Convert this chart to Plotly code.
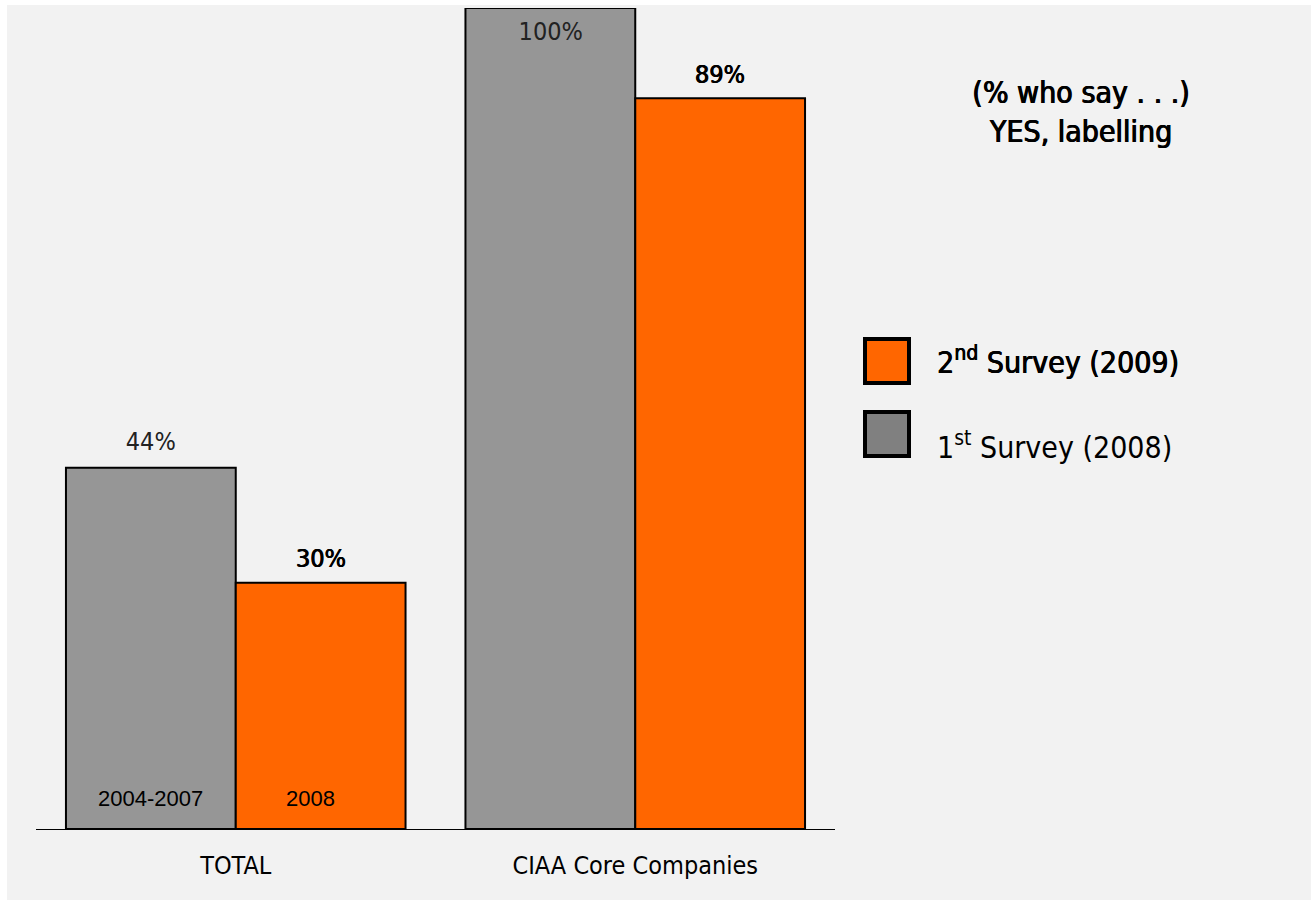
import plotly.graph_objects as go

# Survey results: share of respondents answering "YES, labelling"
categories = ["TOTAL", "CIAA Core Companies"]
first_survey = [44, 100]     # 1st Survey (2008)
second_survey = [30, 89]     # 2nd Survey (2009)
period_labels_first = ["2004-2007", ""]
period_labels_second = ["2008", ""]

GREY = "#969696"
ORANGE = "#ff6600"
NARROW = "DejaVu Sans"
REGULAR = "Liberation Sans, Arial, sans-serif"
THICK = "0.6px 0 0 black, -0.2px 0 0 black"  # slightly heavier stroke

W, H = 1311, 900
M_L, M_R, M_T, M_B = 36, 476, 8, 71
PW = W - M_L - M_R
PH = H - M_T - M_B


def px_x(px):
    return (px - M_L) / PW


def px_y(py):
    return (H - M_B - py) / PH


def narrow(size, color="black", weight="normal", shadow="none"):
    return dict(family=NARROW, size=size, color=color, weight=weight,
                shadow=shadow)


fig = go.Figure()
fig.add_trace(go.Bar(
    x=categories, y=first_survey, name="1st Survey (2008)",
    marker=dict(color=GREY, line=dict(color="black", width=2)),
))
fig.add_trace(go.Bar(
    x=categories, y=second_survey, name="2nd Survey (2009)",
    marker=dict(color=ORANGE, line=dict(color="black", width=2)),
))

annotations = []
half = PW / 2 * 0.85 / 4  # offset from category centre to bar centre
for i, cat in enumerate(categories):
    v1, v2 = first_survey[i], second_survey[i]
    # value labels
    annotations.append(dict(
        x=cat, y=v1, xref="x", yref="y", xshift=-half,
        yshift=(-23 if v1 >= 100 else 26), showarrow=False,
        xanchor="center", yanchor="middle",
        text=f"{v1}%", font=narrow(25, "#222"),
    ))
    annotations.append(dict(
        x=cat, y=v2, xref="x", yref="y", xshift=half,
        yshift=24, showarrow=False, xanchor="center", yanchor="middle",
        text=f"{v2}%", font=narrow(25, "black", shadow=THICK),
    ))
    # period labels at the base of the bars
    if period_labels_first[i]:
        annotations.append(dict(
            x=cat, y=0, xref="x", yref="y", xshift=-half, yshift=31,
            showarrow=False, xanchor="center", yanchor="middle",
            text=period_labels_first[i],
            font=dict(family=REGULAR, size=22, color="black"),
        ))
    if period_labels_second[i]:
        annotations.append(dict(
            x=cat, y=0, xref="x", yref="y", xshift=half - 10, yshift=31,
            showarrow=False, xanchor="center", yanchor="middle",
            text=period_labels_second[i],
            font=dict(family=REGULAR, size=22, color="black"),
        ))

# heading
annotations.append(dict(
    x=px_x(1081), y=px_y(112), xref="paper", yref="paper", showarrow=False,
    xanchor="center", yanchor="middle",
    text="(% who say . . .)<br>YES, labelling",
    font=narrow(30, "black", shadow="0.7px 0 0 black, -0.3px 0 0 black"),
    align="center",
))

# legend entries: (label, fill, box centre, text centre, shadow)
legend_items = [
    ("2<sup>nd</sup> Survey (2009)", ORANGE, 361, 360, THICK),
    ("1<sup>st</sup> Survey (2008)", "#808080", 434, 446, "none"),
]
shapes = []
for text, color, cy, ty, shadow in legend_items:
    shapes.append(dict(
        type="rect", xref="paper", yref="paper",
        x0=px_x(865), x1=px_x(909), y0=px_y(cy + 22), y1=px_y(cy - 22),
        fillcolor=color, line=dict(color="black", width=4),
    ))
    annotations.append(dict(
        x=px_x(935), y=px_y(ty), xref="paper", yref="paper",
        xanchor="left", yanchor="middle", align="left", showarrow=False,
        text=text, font=narrow(30, "black", shadow=shadow),
    ))

# thin white margin along the top and left edges
shapes.append(dict(type="rect", xref="paper", yref="paper",
                   x0=px_x(0), x1=px_x(W), y0=px_y(5), y1=px_y(0),
                   fillcolor="white", line=dict(width=0), layer="below"))
shapes.append(dict(type="rect", xref="paper", yref="paper",
                   x0=px_x(0), x1=px_x(7), y0=px_y(H), y1=px_y(0),
                   fillcolor="white", line=dict(width=0), layer="below"))

fig.update_layout(
    width=W, height=H,
    margin=dict(l=M_L, r=M_R, t=M_T, b=M_B),
    paper_bgcolor="#f2f2f2", plot_bgcolor="rgba(0,0,0,0)",
    barmode="group", bargap=0.15, bargroupgap=0,
    showlegend=False,
    annotations=annotations, shapes=shapes,
    xaxis=dict(showline=True, linecolor="black", linewidth=1, ticks="",
               tickfont=narrow(25), ticklabelstandoff=14,
               showgrid=False, zeroline=False, fixedrange=True),
    yaxis=dict(range=[0, 100], visible=False, showgrid=False,
               zeroline=False, fixedrange=True),
)

# use the condensed face of DejaVu Sans for the narrow texts
condensed_css = """
var st = document.createElement('style');
st.textContent = 'text[style*="DejaVu"] { font-stretch: condensed !important; }';
document.head.appendChild(st);
"""

fig.write_html("out.html", config={"displayModeBar": False},
               post_script=condensed_css)
